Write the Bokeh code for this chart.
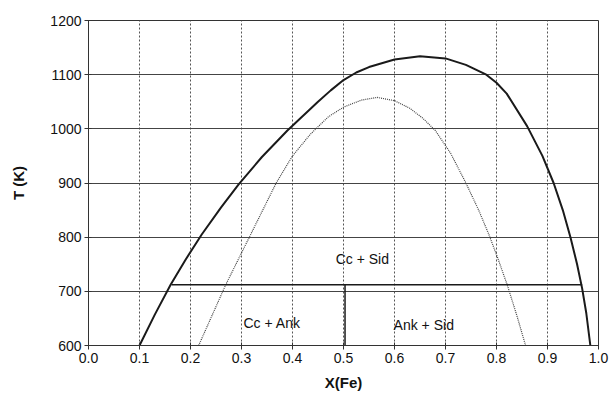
from bokeh.plotting import figure
from bokeh.models import Range1d, FixedTicker, ColumnDataSource
from bokeh.core.properties import value
from bokeh.embed import file_html
from bokeh.resources import INLINE

# ---- data ----
x_ticks = [0.0, 0.1, 0.2, 0.3, 0.4, 0.5, 0.6, 0.7, 0.8, 0.9, 1.0]
x_tick_labels = ["0.0", "0.1", "0.2", "0.3", "0.4", "0.5", "0.6", "0.7", "0.8", "0.9", "1.0"]
y_ticks = [600, 700, 800, 900, 1000, 1100, 1200]

# solvus (outer, solid)
solvus_x = [0.100, 0.130, 0.161, 0.190, 0.222, 0.260, 0.294, 0.340, 0.390, 0.450,
            0.475, 0.500, 0.525, 0.550, 0.600, 0.650, 0.700, 0.740, 0.780, 0.800,
            0.820, 0.860, 0.890, 0.912, 0.930, 0.945, 0.958, 0.968, 0.976, 0.984]
solvus_T = [600, 657, 712, 758, 805, 855, 897, 948, 997, 1050,
            1071, 1090, 1104, 1114, 1128, 1134, 1130, 1118, 1100, 1085,
            1065, 1005, 950, 900, 850, 800, 750, 705, 660, 600]

# spinodal (inner, dotted)
spin_x = [0.216, 0.269, 0.318, 0.368, 0.400, 0.435, 0.470, 0.500, 0.535, 0.566,
          0.600, 0.630, 0.655, 0.680, 0.710, 0.740, 0.765, 0.785, 0.803, 0.821,
          0.840, 0.857]
spin_T = [600, 712, 805, 900, 950, 990, 1022, 1040, 1053, 1058,
          1052, 1038, 1020, 997, 955, 900, 850, 805, 760, 712,
          655, 600]

# three-phase tie line and divider
tie_x = [0.163, 0.968]
tie_T = [712, 712]
div_x = [0.503, 0.503]
div_T = [600, 712]

# field labels
label_text = ["Cc + Sid", "Cc + Ank", "Ank  +  Sid"]
label_x = [0.537, 0.360, 0.665]
label_T = [760, 642, 638]

FONT = "Liberation Sans"

p = figure(width=613, height=395,
           x_range=Range1d(0, 1), y_range=Range1d(600, 1200),
           output_backend="svg", toolbar_location=None,
           min_border_left=88, min_border_right=15,
           min_border_top=20, min_border_bottom=50)

p.background_fill_color = "white"
p.border_fill_color = "white"
p.outline_line_color = "#333333"
p.outline_line_width = 1

# grid
p.xgrid.ticker = FixedTicker(ticks=x_ticks)
p.ygrid.ticker = FixedTicker(ticks=y_ticks)
p.xgrid.grid_line_color = "#555555"
p.xgrid.grid_line_dash = "2 2"
p.xgrid.grid_line_width = 1
p.ygrid.grid_line_color = "#444444"
p.ygrid.grid_line_width = 1

# axes
p.xaxis.ticker = FixedTicker(ticks=x_ticks)
p.xaxis.major_label_overrides = {t: l for t, l in zip(x_ticks, x_tick_labels)}
p.yaxis.ticker = FixedTicker(ticks=y_ticks)
for ax in (p.xaxis[0], p.yaxis[0]):
    ax.axis_line_color = "#333333"
    ax.major_tick_line_color = "#333333"
    ax.major_tick_in = 3
    ax.major_tick_out = 4
    ax.minor_tick_line_color = None
    ax.major_label_text_font = FONT
    ax.major_label_text_font_size = "14px"
    ax.major_label_text_color = "#111111"
    ax.axis_label_text_font = FONT
    ax.axis_label_text_font_size = "15px"
    ax.axis_label_text_font_style = "bold"
    ax.axis_label_text_color = "#111111"
    ax.major_label_standoff = 3

p.xaxis.axis_label = "X(Fe)"
p.xaxis.axis_label_standoff = 8
p.yaxis.axis_label = "T (K)"
p.yaxis.axis_label_standoff = 20

# curves
p.line(solvus_x, solvus_T, line_color="#1a1a1a", line_width=2, line_join="round")
p.line(spin_x, spin_T, line_color="#444444", line_width=1.2, line_dash="1 1")
p.line(tie_x, tie_T, line_color="#1a1a1a", line_width=1.5)
p.line(div_x, div_T, line_color="#1a1a1a", line_width=1.5)

src = ColumnDataSource(dict(x=label_x, y=label_T, t=label_text))
p.text(x="x", y="y", text="t", source=src, text_font=value(FONT),
       text_font_size="14px", text_align="center", text_baseline="middle",
       text_color="#111111")

open("out.html", "w").write(file_html(p, INLINE))
